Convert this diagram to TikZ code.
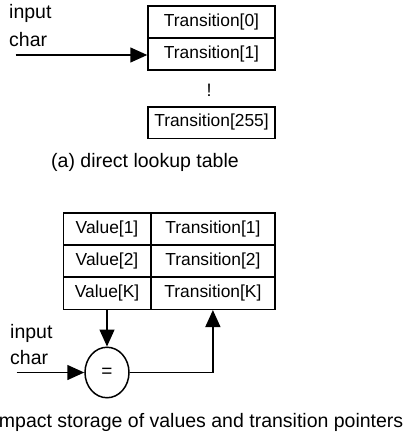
\documentclass[tikz,border=0pt]{standalone}
\usepackage{fontspec}
\setmainfont{Liberation Sans}
\usetikzlibrary{arrows.meta,shapes.geometric}
\begin{document}
\begin{tikzpicture}[x=1pt,y=-1pt,
  cell/.style={draw, line width=1.5pt, rectangle, inner sep=0pt,
    font=\fontsize{17.4}{20}\selectfont},
  valcell/.style={cell, minimum width=87.4pt, minimum height=32pt},
  trcell/.style={cell, minimum width=124.3pt, minimum height=32pt},
  biglabel/.style={inner sep=0pt, font=\fontsize{19.5}{23}\selectfont},
  conn/.style={line width=1.5pt, -{Triangle[length=17pt,width=15pt]}}]
\useasboundingbox (0,0) rectangle (404,436);

% (a) direct lookup table
\node[cell, minimum width=127pt, minimum height=32pt] (t0) at (211.5,22) {Transition[0]};
\node[cell, minimum width=127pt, minimum height=32pt] (t1) at (211.5,54) {Transition[1]};
\node[inner sep=0pt, font=\fontsize{18}{20}\selectfont] (dots) at (209,90) {!};
\node[cell, minimum width=127pt, minimum height=31.5pt] (t255) at (211.5,122.5) {Transition[255]};

\node[biglabel, anchor=base west] (inA) at (9,19) {input};
\node[biglabel, anchor=base west] (chA) at (9,47) {char};
\coordinate (srcA) at (15.5,55);
\draw[conn] (srcA) -- (srcA -| t1.west);

\node[biglabel, anchor=base] (capA) at (145,167.5) {(a) direct lookup table};

% (b) compact storage
\node[valcell] (v1) at (107,228.8) {Value[1]};
\node[valcell] (v2) at (107,260.8) {Value[2]};
\node[valcell] (vk) at (107,293.3) {Value[K]};
\node[trcell] (r1) at (212.9,228.8) {Transition[1]};
\node[trcell] (r2) at (212.9,260.8) {Transition[2]};
\node[trcell] (rk) at (212.9,293.3) {Transition[K]};

\node[ellipse, draw, line width=1.5pt, minimum width=44pt, minimum height=50.5pt,
  inner sep=0pt, font=\fontsize{19}{20}\selectfont] (eq) at (107,372.5) {=};

\draw[conn] (vk.south) -- (eq.north);
\draw[conn] (eq.east) -| (rk.south);

\node[biglabel, anchor=base west] (inB) at (10,338.3) {input};
\node[biglabel, anchor=base west] (chB) at (10,364.3) {char};
\coordinate (srcB) at (16.7,372.5);
\draw[conn] (srcB) -- (eq.west);

\node[biglabel, anchor=base east] (capB) at (403.5,427) {mpact storage of values and transition pointers};
\end{tikzpicture}
\end{document}
